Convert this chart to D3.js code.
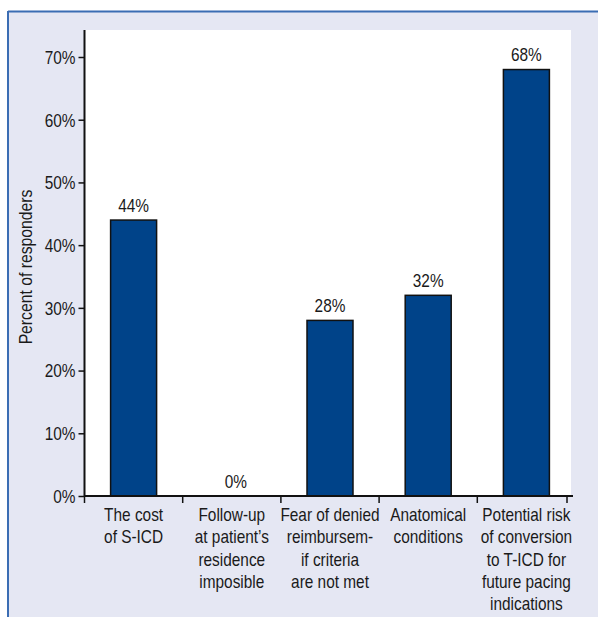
<!DOCTYPE html>
<html>
<head>
<meta charset="utf-8">
<script src="https://cdn.jsdelivr.net/npm/d3@7"></script>
<style>
  html, body { margin: 0; padding: 0; background: #ffffff; }
  svg { display: block; }
  text { font-family: "Liberation Sans", Arial, sans-serif; fill: #1a1a1a; }
</style>
</head>
<body>
<svg id="chart" width="598" height="617"></svg>
<script>
// Reasons for not implanting S-ICD: share of respondents
const categories = [
  ["The cost", "of S-ICD"],
  ["Follow-up", "at patient\u2019s", "residence", "imposible"],
  ["Fear of denied", "reimbursem-", "if criteria", "are not met"],
  ["Anatomical", "conditions"],
  ["Potential risk", "of conversion", "to T-ICD for", "future pacing", "indications"]
];
const values = [44, 0, 28, 32, 68];
const yTicks = [0, 10, 20, 30, 40, 50, 60, 70];
const yTitle = "Percent of responders";

const svg = d3.select("#chart");
const W = 598, H = 617;
const FS = 17.5;      // font size used for all labels
const SX = 0.88;      // horizontal squeeze giving a condensed face

// Panel background with left/top rule
svg.append("rect").attr("x", 8).attr("y", 11).attr("width", W - 8).attr("height", H - 11)
  .attr("fill", "#e5e7f3");
svg.append("line").attr("x1", 8).attr("x2", W).attr("y1", 11.5).attr("y2", 11.5)
  .attr("stroke", "#3b6db3").attr("stroke-width", 2);
svg.append("line").attr("x1", 8).attr("x2", 8).attr("y1", 11).attr("y2", H)
  .attr("stroke", "#3b6db3").attr("stroke-width", 2);

const plotLeft = 84.5, plotRight = 573, plotTop = 30, baseline = 496;

// White plotting area
svg.append("rect").attr("x", plotLeft).attr("y", plotTop).attr("width", 571 - plotLeft).attr("height", baseline - plotTop)
  .attr("fill", "#ffffff");

const x = d3.scaleBand().domain(d3.range(categories.length)).range([plotLeft, 575.5]).paddingInner(0).paddingOuter(0);
const y = d3.scaleLinear().domain([0, 70]).range([baseline, 57]);
const cx = i => x(i) + x.bandwidth() / 2;

// Bars
const barW = 46;
svg.append("g").selectAll("rect").data(values).join("rect")
  .attr("x", (d, i) => cx(i) - barW / 2)
  .attr("y", d => y(d))
  .attr("width", barW)
  .attr("height", d => baseline - y(d))
  .attr("fill", "#004389")
  .attr("stroke", "#111")
  .attr("stroke-width", d => d > 0 ? 1.5 : 0);

// Value labels
svg.append("g").selectAll("text").data(values).join("text")
  .attr("transform", (d, i) => `translate(${cx(i) + (d === 0 ? 4 : 0)},${y(d) - 8.5}) scale(${SX},1)`)
  .attr("text-anchor", "middle")
  .attr("font-size", FS)
  .text(d => d + "%");

// Y axis
const yAxis = d3.axisLeft(y).tickValues(yTicks).tickFormat(d => d + "%").tickSize(6).tickPadding(3);
const gy = svg.append("g").attr("transform", `translate(${plotLeft},0)`).call(yAxis);
gy.select(".domain").attr("d", `M0,${plotTop}V${baseline}`).attr("stroke", "#111").attr("stroke-width", 2);
gy.selectAll(".tick line").attr("stroke", "#111").attr("stroke-width", 1.5);
gy.selectAll(".tick text")
  .attr("font-size", FS).attr("font-family", null).attr("fill", "#1a1a1a")
  .attr("x", -9 / SX).attr("dy", "0.36em")
  .attr("transform", `scale(${SX},1)`);

// X axis baseline and category separators
svg.append("line").attr("x1", plotLeft).attr("x2", plotRight).attr("y1", baseline).attr("y2", baseline)
  .attr("stroke", "#111").attr("stroke-width", 2);
const seps = d3.range(categories.length).map(i => x(i)).concat([plotRight - 6]);
svg.append("g").selectAll("line").data(seps).join("line")
  .attr("x1", d => d).attr("x2", d => d)
  .attr("y1", baseline).attr("y2", baseline + 7)
  .attr("stroke", "#111").attr("stroke-width", 1.5);

// Category labels
const lab = svg.append("g").selectAll("text").data(categories).join("text")
  .attr("text-anchor", "middle")
  .attr("font-size", FS)
  .attr("transform", (d, i) => `translate(${cx(i)},521) scale(${SX},1)`);
lab.selectAll("tspan").data(d => d).join("tspan")
  .attr("x", 0)
  .attr("dy", (d, j) => j === 0 ? 0 : 22.3)
  .text(d => d);

// Y title
svg.append("text")
  .attr("transform", `translate(32,267) rotate(-90) scale(0.9,1)`)
  .attr("text-anchor", "middle")
  .attr("font-size", FS)
  .text(yTitle);
</script>
</body>
</html>
